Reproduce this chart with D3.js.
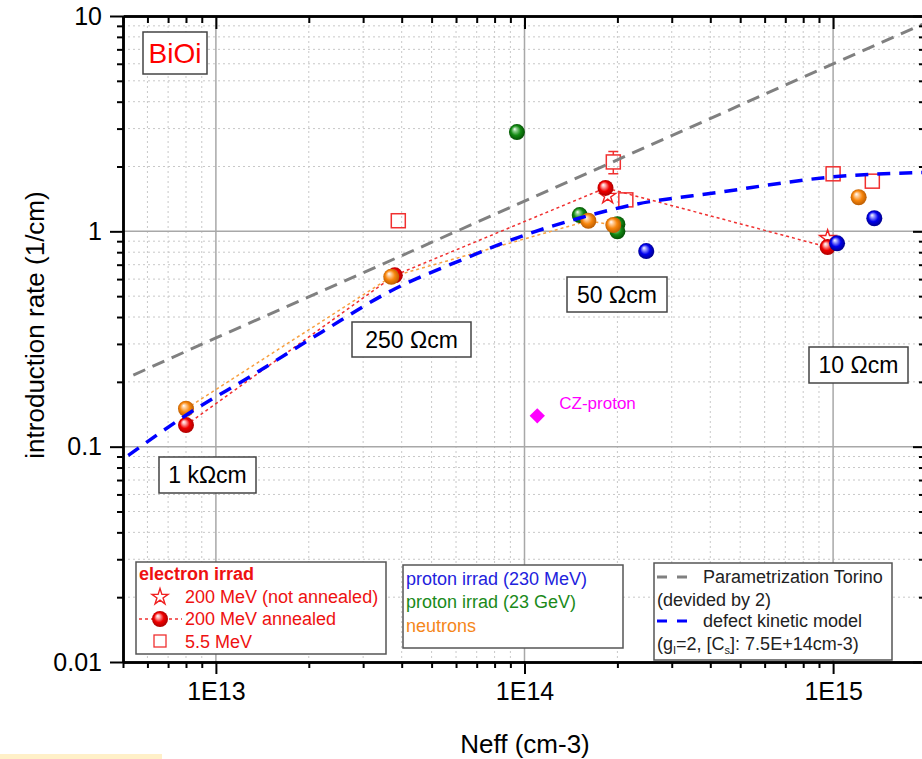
<!DOCTYPE html>
<html>
<head>
<meta charset="utf-8">
<script src="https://cdn.jsdelivr.net/npm/d3@7"></script>
<style>
  body { margin: 0; background: #fff; }
  svg { font-family: "Liberation Sans", Arial, sans-serif; display: block; }
</style>
</head>
<body>
<div id="chart"></div>
<script>
// Axis ticks
const xTickValues = [1e13, 1e14, 1e15];
const xTickLabels = ["1E13", "1E14", "1E15"];
const yTickValues = [0.01, 0.1, 1, 10];
const yTickLabels = ["0.01", "0.1", "1", "10"];

// electron irrad, 200 MeV annealed (spheres joined by dotted line)
const redNeff = [8.0e12, 3.8e13, 1.83e14, 9.6e14];
const redRate = [0.126, 0.625, 1.59, 0.845];
// electron irrad, 200 MeV not annealed (stars)
const starNeff = [1.86e14, 9.6e14];
const starRate = [1.46, 0.93];
// electron irrad, 5.5 MeV (open squares)
const sqNeff = [3.9e13, 1.94e14, 2.13e14, 1.0e15, 1.34e15];
const sqRate = [1.12, 2.10, 1.40, 1.85, 1.71];
const sqErr = [0, 0.25, 0, 0, 0];
// proton irrad 230 MeV
const blueNeff = [2.48e14, 1.03e15, 1.36e15];
const blueRate = [0.81, 0.88, 1.15];
// proton irrad 23 GeV
const greenNeff = [9.45e13, 1.51e14, 2.0e14, 2.0e14];
const greenRate = [2.89, 1.19, 1.08, 1.0];
// neutrons (first four joined by dotted line)
const orangeNeff = [8.0e12, 3.7e13, 1.61e14, 1.94e14, 1.21e15];
const orangeRate = [0.150, 0.615, 1.12, 1.07, 1.44];
// CZ-proton
const czNeff = [1.1e14];
const czRate = [0.139];
// Parametrization Torino (divided by 2)
const torinoNeff = [5.4e12, 1e13, 1e14, 1e15, 2e15];
const torinoRate = [0.215, 0.32, 1.38, 6.0, 9.3];
// defect kinetic model
const kinNeff = [5.2e12, 8e12, 1.3e13, 2.2e13, 3.7e13, 6.3e13, 1e14, 1.5e14, 2.2e14, 4.3e14, 1e15, 2e15];
const kinRate = [0.091, 0.140, 0.213, 0.34, 0.53, 0.74, 0.96, 1.15, 1.32, 1.52, 1.79, 1.88];

const margin = {top: 16, left: 123};
const width = 803, height = 646;

const svg = d3.select("#chart").append("svg")
  .attr("width", 922).attr("height", 759);

// yellow strip bottom-left
svg.append("rect").attr("x", 0).attr("y", 754).attr("width", 162).attr("height", 5).attr("fill", "#fff0c8");

const g = svg.append("g").attr("transform", `translate(${margin.left},${margin.top})`);

const x = d3.scaleLog().domain([5e12, 2e15]).range([0, width]);
const y = d3.scaleLog().domain([0.01, 10]).range([height, 0]);

const zip = (a, b) => a.map((v, i) => [v, b[i]]);

// minor tick values 2..9 per decade
const xMinor = [], yMinor = [];
for (let e = 12; e <= 15; e++) for (let m = 2; m <= 9; m++) {
  const v = m * Math.pow(10, e);
  if (v >= 5e12 && v <= 2e15) xMinor.push(v);
}
for (let e = -2; e <= 0; e++) for (let m = 2; m <= 9; m++) yMinor.push(m * Math.pow(10, e));

// Grid
const grid = g.append("g");
grid.selectAll(".vminor").data(xMinor).enter().append("line")
  .attr("x1", d => x(d)).attr("x2", d => x(d)).attr("y1", 0).attr("y2", height)
  .attr("stroke", "#c8c8c8").attr("stroke-width", 1).attr("stroke-dasharray", "2,3");
grid.selectAll(".hminor").data(yMinor).enter().append("line")
  .attr("y1", d => y(d)).attr("y2", d => y(d)).attr("x1", 0).attr("x2", width)
  .attr("stroke", "#c8c8c8").attr("stroke-width", 1).attr("stroke-dasharray", "2,3");
grid.selectAll(".vmajor").data(xTickValues).enter().append("line")
  .attr("x1", d => x(d)).attr("x2", d => x(d)).attr("y1", 0).attr("y2", height)
  .attr("stroke", "#a8a8a8").attr("stroke-width", 1.5);
grid.selectAll(".hmajor").data([0.1, 1]).enter().append("line")
  .attr("y1", d => y(d)).attr("y2", d => y(d)).attr("x1", 0).attr("x2", width)
  .attr("stroke", "#a8a8a8").attr("stroke-width", 1.5);

// gradients for spheres
const defs = svg.append("defs");
const sphereColors = {
  red: ["#ffb0b0", "#f00000", "#a00000"],
  blue: ["#a0a0ff", "#0000ee", "#00007a"],
  green: ["#90d090", "#138a13", "#004400"],
  orange: ["#ffd0a0", "#f8860c", "#b05500"]
};
Object.entries(sphereColors).forEach(([k, c]) => {
  const rg = defs.append("radialGradient").attr("id", "sp-" + k)
    .attr("cx", "50%").attr("cy", "50%").attr("r", "55%").attr("fx", "35%").attr("fy", "30%");
  rg.append("stop").attr("offset", "0%").attr("stop-color", "#ffffff");
  rg.append("stop").attr("offset", "20%").attr("stop-color", c[0]);
  rg.append("stop").attr("offset", "55%").attr("stop-color", c[1]);
  rg.append("stop").attr("offset", "100%").attr("stop-color", c[2]);
});

const line = d3.line().x(d => x(d[0])).y(d => y(d[1]));

// dotted connecting lines
g.append("path").datum(zip(redNeff, redRate)).attr("d", line)
  .attr("fill", "none").attr("stroke", "#f03030").attr("stroke-width", 1.5).attr("stroke-dasharray", "3,3");
g.append("path").datum(zip(orangeNeff, orangeRate).slice(0, 4)).attr("d", line)
  .attr("fill", "none").attr("stroke", "#f8a040").attr("stroke-width", 1.5).attr("stroke-dasharray", "3,3");

function spheres(data, key) {
  g.append("g").selectAll("circle").data(data).enter().append("circle")
    .attr("cx", d => x(d[0])).attr("cy", d => y(d[1])).attr("r", 8)
    .attr("fill", `url(#sp-${key})`);
}

// stars
g.append("g").selectAll("path").data(zip(starNeff, starRate)).enter().append("path")
  .attr("d", d3.symbol(d3.symbolStar, 80))
  .attr("transform", d => `translate(${x(d[0])},${y(d[1])})`)
  .attr("fill", "none").attr("stroke", "#f02020").attr("stroke-width", 1.4);

spheres(zip(redNeff, redRate), "red");
spheres(zip(greenNeff, greenRate), "green");
spheres(zip(orangeNeff, orangeRate), "orange");
spheres(zip(blueNeff, blueRate), "blue");

// squares with error bars
const sq = g.append("g");
zip(sqNeff, sqRate).forEach((d, i) => {
  const cx = x(d[0]), cy = y(d[1]);
  if (sqErr[i] > 0) {
    const yt = y(d[1] + sqErr[i]), yb = y(d[1] - sqErr[i]);
    sq.append("path").attr("d", `M${cx},${yt}V${cy - 7}M${cx},${cy + 7}V${yb}M${cx - 5},${yt}H${cx + 5}M${cx - 5},${yb}H${cx + 5}`)
      .attr("stroke", "#f03030").attr("stroke-width", 1.5).attr("fill", "none");
  }
  sq.append("rect").attr("x", cx - 7).attr("y", cy - 7).attr("width", 14).attr("height", 14)
    .attr("fill", "none").attr("stroke", "#f03030").attr("stroke-width", 1.5);
});

// CZ-proton diamond
g.append("g").selectAll("path").data(zip(czNeff, czRate)).enter().append("path")
  .attr("d", d3.symbol(d3.symbolDiamond2, 150))
  .attr("transform", d => `translate(${x(d[0])},${y(d[1])})`)
  .attr("fill", "#ff00ff");
g.append("text").attr("x", x(czNeff[0]) + 22).attr("y", y(czRate[0]) - 7)
  .attr("fill", "#ff00ff").attr("font-size", 17).text("CZ-proton");

// model curves
g.append("path").datum(zip(torinoNeff, torinoRate)).attr("d", line)
  .attr("fill", "none").attr("stroke", "#808080").attr("stroke-width", 3).attr("stroke-dasharray", "13,8");
g.append("path").datum(zip(kinNeff, kinRate)).attr("d", line.curve(d3.curveMonotoneX))
  .attr("fill", "none").attr("stroke", "#0000ff").attr("stroke-width", 3.5).attr("stroke-dasharray", "13,9");

// Axes
function styleAxis(a) {
  a.select(".domain").attr("stroke", "#000").attr("stroke-width", 2.5);
  a.selectAll(".tick line").attr("stroke", "#000").attr("stroke-width", 2);
}
const fmtX = (d, i) => xTickLabels[xTickValues.indexOf(d)];
const fmtY = (d) => yTickLabels[yTickValues.indexOf(d)];

const xAxis = g.append("g").attr("transform", `translate(0,${height})`)
  .call(d3.axisBottom(x).tickValues(xTickValues).tickFormat(fmtX).tickSize(12).tickSizeOuter(0).tickPadding(8));
xAxis.selectAll("text").attr("font-size", 25).attr("fill", "#000").attr("font-family", "Liberation Sans, Arial");
styleAxis(xAxis);
styleAxis(g.append("g").attr("transform", `translate(0,${height})`)
  .call(d3.axisBottom(x).tickValues(xMinor).tickFormat("").tickSize(6).tickSizeOuter(0)));

const yAxis = g.append("g")
  .call(d3.axisLeft(y).tickValues(yTickValues).tickFormat(fmtY).tickSize(13).tickSizeOuter(0).tickPadding(8));
yAxis.selectAll("text").attr("font-size", 25).attr("fill", "#000").attr("font-family", "Liberation Sans, Arial");
styleAxis(yAxis);
styleAxis(g.append("g").call(d3.axisLeft(y).tickValues(yMinor).tickFormat("").tickSize(6).tickSizeOuter(0)));

// top and right axes, ticks inward
styleAxis(g.append("g").call(d3.axisTop(x).tickValues(xTickValues).tickFormat("").tickSize(-13).tickSizeOuter(0)));
styleAxis(g.append("g").call(d3.axisTop(x).tickValues(xMinor).tickFormat("").tickSize(-7).tickSizeOuter(0)));
styleAxis(g.append("g").attr("transform", `translate(${width},0)`)
  .call(d3.axisRight(y).tickValues(yTickValues).tickFormat("").tickSize(-13).tickSizeOuter(0)));
styleAxis(g.append("g").attr("transform", `translate(${width},0)`)
  .call(d3.axisRight(y).tickValues(yMinor).tickFormat("").tickSize(-7).tickSizeOuter(0)));

// Axis titles
svg.append("text").attr("x", 525).attr("y", 753).attr("text-anchor", "middle")
  .attr("font-size", 26).text("Neff (cm-3)");
svg.append("text").attr("transform", "translate(44,325) rotate(-90)").attr("text-anchor", "middle")
  .attr("font-size", 26).text("introduction rate (1/cm)");

// Annotation boxes
function box(text, bx, by, bw, bh, size, color) {
  svg.append("rect").attr("x", bx).attr("y", by).attr("width", bw).attr("height", bh)
    .attr("fill", "#fff").attr("stroke", "#444").attr("stroke-width", 1.5);
  svg.append("text").attr("x", bx + bw / 2).attr("y", by + bh / 2).attr("dy", "0.36em")
    .attr("text-anchor", "middle").attr("font-size", size).attr("fill", color).text(text);
}
box("BiOi", 143, 32, 64, 42, 28, "#ff0000");
box("1 k\u03A9cm", 159, 457, 97, 36, 23, "#000");
box("250 \u03A9cm", 352, 322, 119, 35, 23, "#000");
box("50 \u03A9cm", 567, 277, 100, 35, 23, "#000");
box("10 \u03A9cm", 809, 347, 99, 36, 23, "#000");

// Legend: electron irrad
const lg1 = svg.append("g");
lg1.append("rect").attr("x", 136).attr("y", 562).attr("width", 250).attr("height", 92)
  .attr("fill", "#fff").attr("stroke", "#555").attr("stroke-width", 1.5);
lg1.append("text").attr("x", 139).attr("y", 580).attr("font-size", 18).attr("font-weight", "bold")
  .attr("fill", "#ee1111").text("electron irrad");
lg1.append("path").attr("d", d3.symbol(d3.symbolStar, 80)).attr("transform", "translate(160,597)")
  .attr("fill", "none").attr("stroke", "#f02020").attr("stroke-width", 1.4);
lg1.append("line").attr("x1", 139).attr("x2", 182).attr("y1", 619).attr("y2", 619)
  .attr("stroke", "#f03030").attr("stroke-width", 1.5).attr("stroke-dasharray", "3,3");
lg1.append("circle").attr("cx", 160).attr("cy", 619).attr("r", 8).attr("fill", "url(#sp-red)");
lg1.append("rect").attr("x", 154).attr("y", 635).attr("width", 12).attr("height", 12)
  .attr("fill", "none").attr("stroke", "#f03030").attr("stroke-width", 1.3);
[["200 MeV (not annealed)", 603], ["200 MeV annealed", 625], ["5.5 MeV", 648]].forEach(([t, yy]) => {
  lg1.append("text").attr("x", 185).attr("y", yy).attr("font-size", 18).attr("fill", "#ee1111").text(t);
});

// Legend: proton/neutrons
const lg2 = svg.append("g");
lg2.append("rect").attr("x", 403).attr("y", 565).attr("width", 220).attr("height", 83)
  .attr("fill", "#fff").attr("stroke", "#555").attr("stroke-width", 1.5);
[["proton irrad (230 MeV)", 585, "#2222dd"], ["proton irrad (23 GeV)", 608, "#1a8a1a"], ["neutrons", 632, "#f5861a"]]
  .forEach(([t, yy, c]) => {
    lg2.append("text").attr("x", 406).attr("y", yy).attr("font-size", 18).attr("fill", c).text(t);
  });

// Legend: models
const lg3 = svg.append("g");
lg3.append("rect").attr("x", 654).attr("y", 563).attr("width", 238).attr("height", 97)
  .attr("fill", "#fff").attr("stroke", "#555").attr("stroke-width", 1.5);
lg3.append("line").attr("x1", 657).attr("x2", 691).attr("y1", 577).attr("y2", 577)
  .attr("stroke", "#808080").attr("stroke-width", 3).attr("stroke-dasharray", "10,10");
lg3.append("line").attr("x1", 657).attr("x2", 691).attr("y1", 621).attr("y2", 621)
  .attr("stroke", "#0000ff").attr("stroke-width", 3).attr("stroke-dasharray", "10,10");
lg3.append("text").attr("x", 703).attr("y", 583).attr("font-size", 18).attr("fill", "#222").text("Parametrization Torino");
lg3.append("text").attr("x", 657).attr("y", 606).attr("font-size", 18).attr("fill", "#222").text("(devided by 2)");
lg3.append("text").attr("x", 703).attr("y", 627).attr("font-size", 18).attr("fill", "#222").text("defect kinetic model");
const t4 = lg3.append("text").attr("x", 657).attr("y", 650).attr("font-size", 18).attr("fill", "#222");
t4.append("tspan").text("(g");
t4.append("tspan").attr("dy", 4).attr("font-size", 11).text("I");
t4.append("tspan").attr("dy", -4).text("=2, [C");
t4.append("tspan").attr("dy", 4).attr("font-size", 11).text("s");
t4.append("tspan").attr("dy", -4).text("]: 7.5E+14cm-3)");
</script>
</body>
</html>
